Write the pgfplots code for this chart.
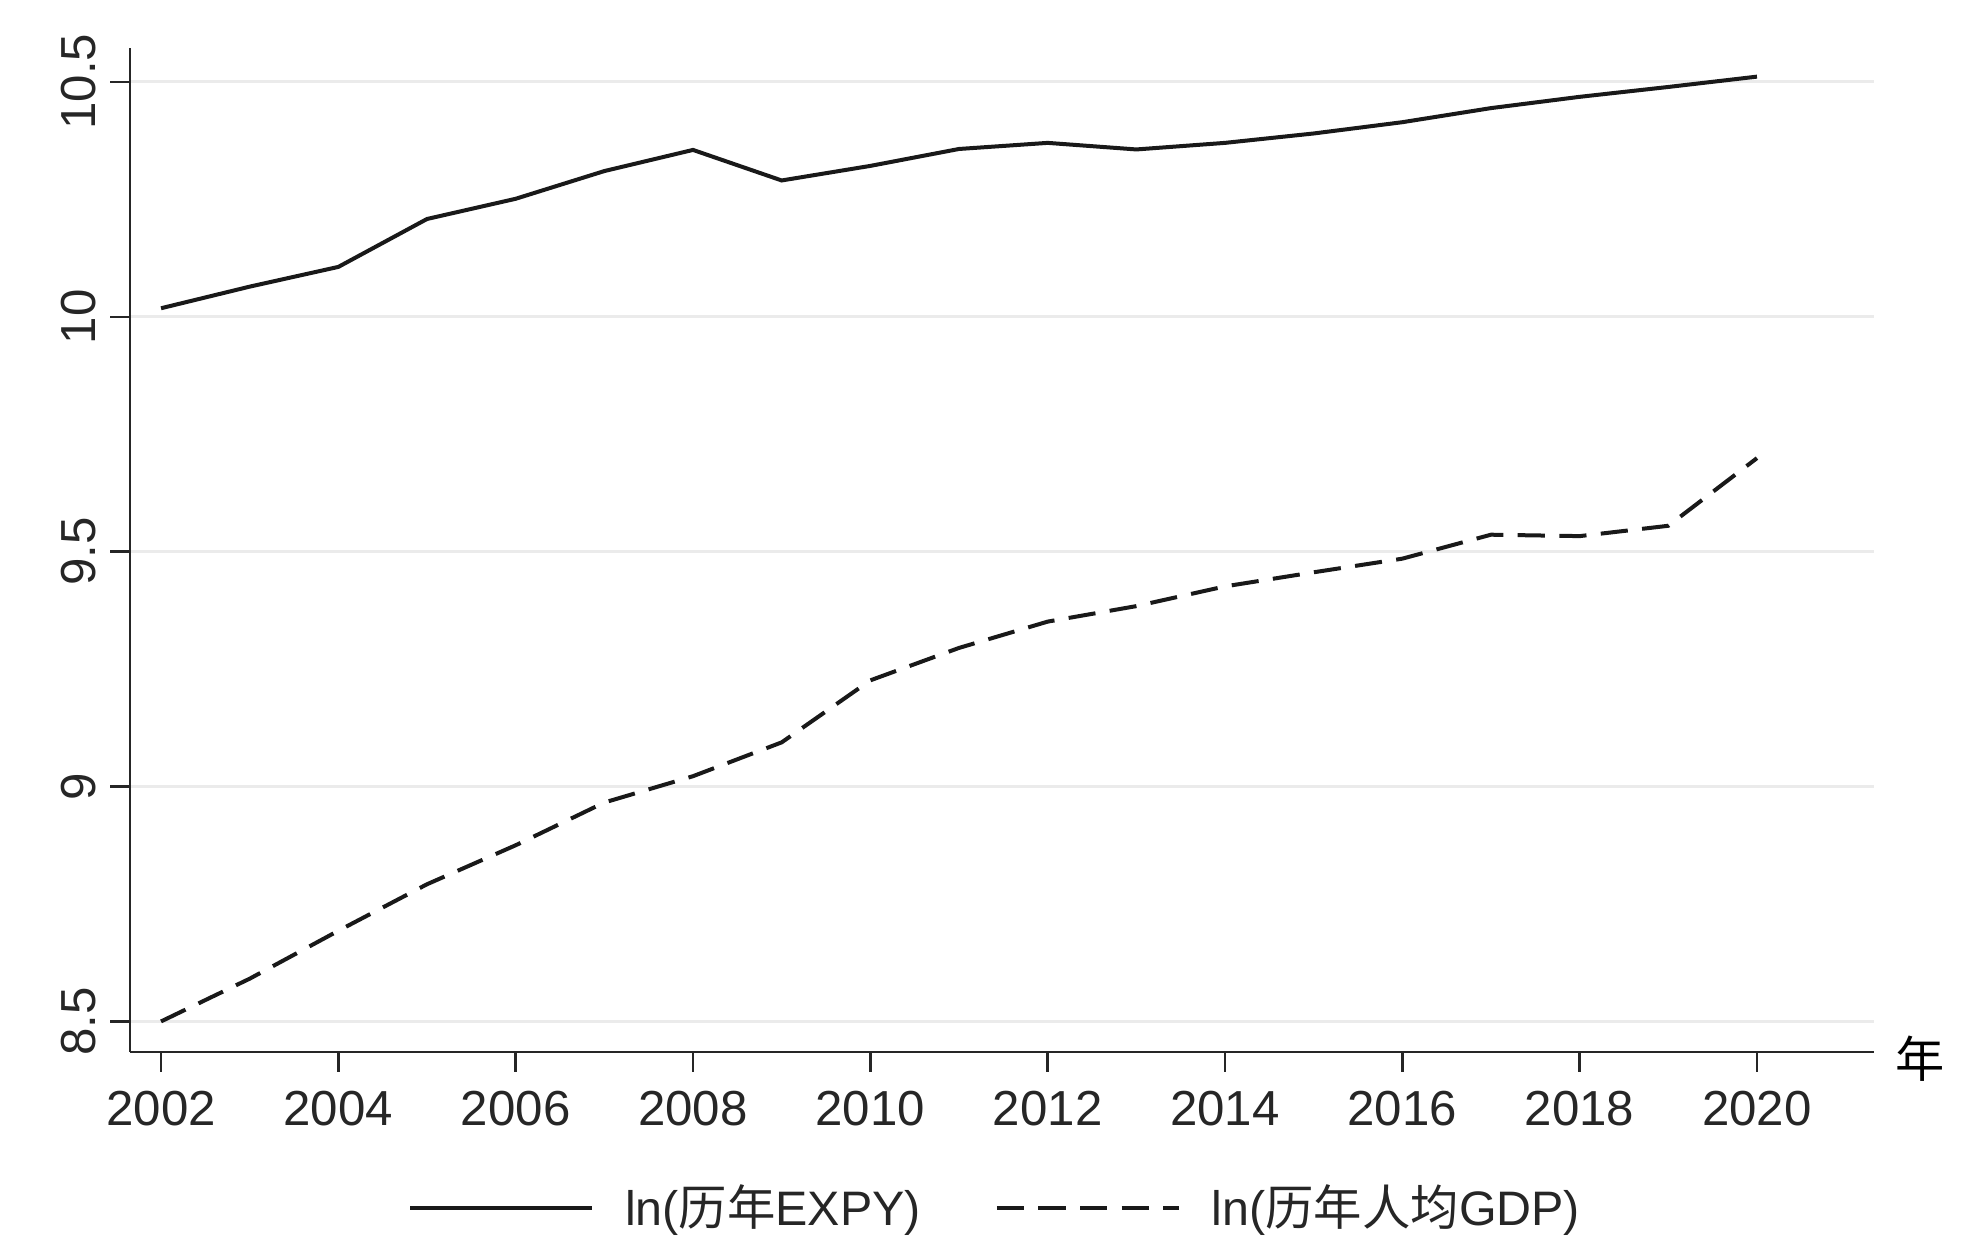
\documentclass[border=0pt]{standalone}
\usepackage{pgfplots}
\pgfplotsset{compat=1.18}
\usepackage{fontspec}
\setmainfont{Liberation Sans}
\newfontfamily\cjk{Noto Sans CJK SC}
\newcommand{\lbl}{\fontsize{12.3}{14}\selectfont}
\newcommand{\lgd}{\fontsize{12.1}{14}\selectfont}
\begin{document}
\begin{tikzpicture}
\begin{axis}[
  name=ax,
  scale only axis,
  width=436pt, height=251pt,
  xmin=2001.65, xmax=2021.32,
  ymin=8.435, ymax=10.572,
  axis x line*=bottom, axis y line*=left,
  axis line style={line width=0.6pt, color=black!85, -},
  xtick={2002,2004,2006,2008,2010,2012,2014,2016,2018,2020},
  xticklabels={2002,2004,2006,2008,2010,2012,2014,2016,2018,2020},
  ytick={8.5,9,9.5,10,10.5},
  yticklabels={8.5,9,9.5,10,10.5},
  tick align=outside,
  major tick length=5pt,
  tick style={line width=0.6pt, color=black!85},
  ymajorgrids,
  grid style={line width=0.75pt, color=black!8},
  ticklabel style={font=\lbl, text=black!85},
  xticklabel style={yshift=-1.2pt},
  yticklabel style={rotate=90, anchor=south},
  xlabel={\cjk 年},
  xlabel style={at={(rel axis cs:1,0)}, anchor=west, xshift=1.8pt, yshift=-1.6pt, font=\lbl},
  legend columns=2,
  legend style={draw=none, fill=none, at={(0.4978,-0.155)}, anchor=center,
    font=\lgd, text=black!85,
    /tikz/every odd column/.append style={column sep=5.7pt},
    /tikz/every even column/.append style={column sep=16.5pt}},
  legend image code/.code={\draw[#1] (0pt,0pt) -- (45.5pt,0pt);},
]
\addplot[line width=1pt, color=black!90] coordinates {
(2002,10.018) (2003,10.064) (2004,10.106) (2005,10.208) (2006,10.251)
(2007,10.310) (2008,10.355) (2009,10.290) (2010,10.321) (2011,10.357)
(2012,10.370) (2013,10.356) (2014,10.370) (2015,10.390) (2016,10.414)
(2017,10.444) (2018,10.468) (2019,10.489) (2020,10.511)
};
\addlegendentry{ln({\cjk 历年}EXPY)}
\addplot[line width=1pt, color=black!90, dash pattern=on 6.8pt off 3.6pt] coordinates {
(2002,8.500) (2003,8.591) (2004,8.693) (2005,8.792) (2006,8.875)
(2007,8.966) (2008,9.022) (2009,9.094) (2010,9.226) (2011,9.295)
(2012,9.351) (2013,9.384) (2014,9.426) (2015,9.456) (2016,9.485)
(2017,9.536) (2018,9.533) (2019,9.555) (2020,9.699)
};
\addlegendentry{ln({\cjk 历年人均}GDP)}
\end{axis}
\pgfresetboundingbox
\path[use as bounding box] (ax.south west) ++(-32.5pt,-51.75pt) rectangle ++(493pt,314.75pt);
\end{tikzpicture}
\end{document}
